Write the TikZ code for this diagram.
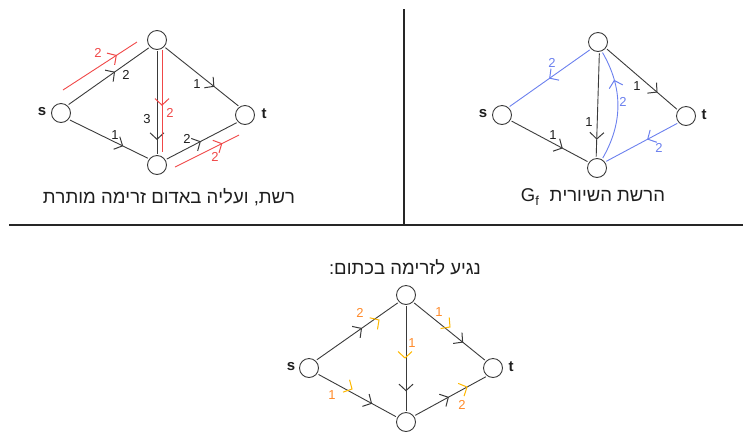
\documentclass[tikz,border=0pt]{standalone}
\usepackage{fontspec}
\setmainfont{Liberation Sans}
\TeXXeTstate=1
\usetikzlibrary{arrows.meta,decorations.markings,calc}
\definecolor{ink}{HTML}{3A3A3A}
\definecolor{redc}{HTML}{F04848}
\definecolor{bluec}{HTML}{6B80EE}
\definecolor{orangec}{HTML}{FF8A2A}
\definecolor{yellowc}{HTML}{FFB800}
\definecolor{txt}{HTML}{1E1E1E}
\begin{document}
\begin{tikzpicture}[x=1pt,y=-1pt,
  vtx/.style={circle,draw=ink,line width=0.9pt,minimum size=19pt,inner sep=0pt},
  edge/.style={color=ink,line width=0.9pt,shorten <=1.5pt,shorten >=1.5pt},
  redline/.style={color=redc,line width=0.9pt},
  blueline/.style={color=bluec,line width=0.9pt,shorten <=1.5pt,shorten >=1.5pt},
  chev/.style={postaction={decorate},decoration={markings,
     mark=at position #1 with {\draw[line width=1pt,line join=miter,shorten <=0pt,shorten >=0pt]
        (-6.5pt,-7pt) -- (0pt,0pt) -- (-6.5pt,7pt);}}},
  vlab/.style={font=\fontsize{15}{16}\selectfont\bfseries,text=txt,inner sep=0pt},
  elab/.style={font=\fontsize{13}{14}\selectfont,inner sep=0pt},
  blab/.style={elab,text=txt},
  rlab/.style={elab,text=redc},
  ulab/.style={elab,text=bluec},
  olab/.style={elab,text=orangec},
  captxt/.style={font=\fontsize{18.5}{20}\selectfont,text=txt,inner sep=0pt},
  divider/.style={draw=black!85,line width=2pt},
  pics/chv/.style={code={\draw[line width=1pt,line join=miter] (-6.5pt,-7pt) -- (0pt,0pt) -- (-6.5pt,7pt);}}
]
\useasboundingbox (0,0) rectangle (743,432);

% dividers
\coordinate (vtop) at (404,9);
\coordinate (vbot) at (404,225);
\coordinate (hl) at (9,225);
\coordinate (hr) at (743,225);
\draw[divider] (vtop) -- (vbot);
\draw[divider] (hl) -- (hr);

% ---------------- panel 1 ----------------
\node[vtx] (s1) at (61,113) {};
\node[vtx] (a1) at (157,40) {};
\node[vtx] (b1) at (157,165) {};
\node[vtx] (t1) at (245,115) {};
\node[vlab] (ls1) at (42,112) {s};
\node[vlab] (lt1) at (264,114) {t};

\draw[edge,chev=0.57] (s1.50) -- (a1.225);
\draw[edge,chev=0.66] (a1.-43) -- (t1.124);
\draw[edge,chev=0.85] (a1.-90) -- (b1.90);
\draw[edge,chev=0.67] (s1.-40) -- (b1.142);
\draw[edge,chev=0.48] (b1.32) -- (t1.225);

\coordinate (r1a) at (63,90);
\coordinate (r1b) at (137,42);
\coordinate (r2a) at (162,50);
\coordinate (r2b) at (162,152);
\coordinate (r3a) at (175,167);
\coordinate (r3b) at (239,135);
\draw[redline,chev=0.72] (r1a) -- (r1b);
\draw[redline,chev=0.54] (r2a) -- (r2b);
\draw[redline,chev=0.73] (r3a) -- (r3b);

\node[blab] (e1) at (126,75) {2};
\node[blab] (e2) at (197,84) {1};
\node[blab] (e3) at (147,119) {3};
\node[blab] (e4) at (115,135) {1};
\node[blab] (e5) at (187,139) {2};
\node[rlab] (f1) at (98,53) {2};
\node[rlab] (f2) at (170,113) {2};
\node[rlab] (f3) at (215,157) {2};

\node[captxt] (cap1) at (169,197) {\beginR רשת, ועליה באדום זרימה מותרת\endR};

% ---------------- panel 2 ----------------
\node[vtx] (s2) at (502,115) {};
\node[vtx] (a2) at (598,42) {};
\node[vtx] (b2) at (597,168) {};
\node[vtx] (t2) at (686,116) {};
\node[vlab] (ls2) at (483,114) {s};
\node[vlab] (lt2) at (704,115) {t};

\draw[blueline,chev=0.5] (a2.225) -- (s2.50);
\draw[edge,chev=0.66] (s2.-33) -- (b2.145);
\draw[edge,chev=0.82] (a2.-82) -- (b2.95);
\draw[blueline,chev=0.72] (b2.60) to[bend right=30] (a2.-68);
\draw[edge,chev=0.71] (a2.-38) -- (t2.144);
\draw[blueline,chev=0.42] (t2.222) -- (b2.37);

\node[ulab] (g1) at (552,63) {2};
\node[blab] (g2) at (553,135) {1};
\node[blab] (g3) at (589,122) {1};
\node[ulab] (g4) at (623,102) {2};
\node[blab] (g5) at (637,86) {1};
\node[ulab] (g6) at (659,148) {2};

\node[captxt] (cap2) at (593,197) {G\textsubscript{f}\ \ \beginR הרשת השיורית\endR};

% ---------------- panel 3 ----------------
\node[vtx] (s3) at (309,368) {};
\node[vtx] (a3) at (406,295) {};
\node[vtx] (b3) at (406,422) {};
\node[vtx] (t3) at (493,368) {};
\node[vlab] (ls3) at (291,367) {s};
\node[vlab] (lt3) at (511,367) {t};

\draw[edge,chev=0.55] (s3.48) -- (a3.225);
\draw[edge,chev=0.68] (s3.-35) -- (b3.152);
\draw[edge,chev=0.8] (a3.-90) -- (b3.90);
\draw[edge,chev=0.68] (a3.-45) -- (t3.135);
\draw[edge,chev=0.47] (b3.37) -- (t3.234);

\pic[color=yellowc,rotate=33.7] (y1) at (379,320) {chv};
\pic[color=yellowc,rotate=-28] (y2) at (352,389) {chv};
\pic[color=yellowc,rotate=-90] (y3) at (405,358) {chv};
\pic[color=yellowc,rotate=-38] (y4) at (450,327) {chv};
\pic[color=yellowc,rotate=25] (y5) at (467,387) {chv};

\node[olab] (h1) at (360,313) {2};
\node[olab] (h2) at (332,395) {1};
\node[olab] (h3) at (412,343) {1};
\node[olab] (h4) at (439,312) {1};
\node[olab] (h5) at (462,405) {2};

\node[captxt] (cap3) at (405,267) {\beginR נגיע לזרימה בכתום:\endR};
\end{tikzpicture}
\end{document}
